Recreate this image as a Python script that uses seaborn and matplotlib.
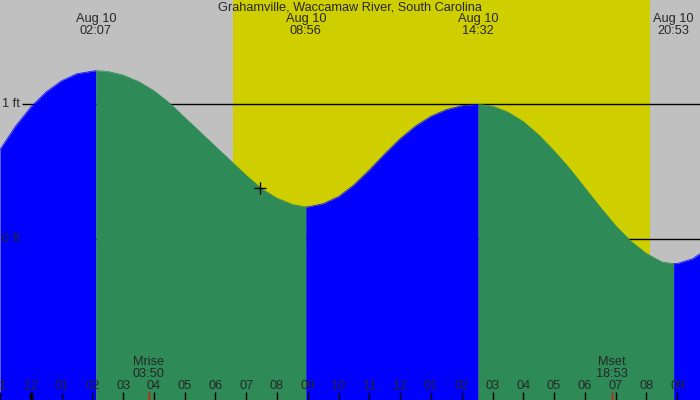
import numpy as np
import pandas as pd
import matplotlib
matplotlib.use("Agg")
from matplotlib import pyplot as plt
import seaborn as sns

# readings (hours from midnight Aug 10, height in ft)
hours = [-1.0, -0.5, 0.0, 0.5, 1.0, 1.5, 2.117,
         2.5, 3.0, 3.5, 4.0, 4.5, 5.0, 5.5, 6.0, 6.5, 7.0, 7.5, 8.0, 8.5, 8.933,
         9.0, 9.5, 10.0, 10.5, 11.0, 11.5, 12.0, 12.5, 13.0, 13.5, 14.0, 14.533,
         15.0, 15.5, 16.0, 16.5, 17.0, 17.5, 18.0, 18.5, 19.0, 19.5, 20.0, 20.5,
         20.883, 21.0, 21.5, 22.0]
height_ft = [0.665, 0.838, 0.980, 1.093, 1.175, 1.227, 1.250,
             1.244, 1.217, 1.169, 1.101, 1.011, 0.903, 0.796, 0.688, 0.581,
             0.474, 0.375, 0.305, 0.259, 0.240,
             0.2405, 0.264, 0.317, 0.404, 0.515, 0.634, 0.746, 0.840, 0.912,
             0.961, 0.990, 1.000,
             0.987, 0.943, 0.872, 0.774, 0.656, 0.526, 0.382, 0.238, 0.101,
             -0.015, -0.105, -0.167,
             -0.180, -0.179, -0.144, -0.065]

tide_hours = [2.117, 8.933, 14.533, 20.883]
tide_labels = ["02:07", "08:56", "14:32", "20:53"]
tide_date = "Aug 10"

sunrise, sunset = 6.57, 20.11
moon_hours = [3.833, 18.883]
moon_names = ["Mrise", "Mset"]
moon_labels = ["03:50", "18:53"]

now_hour, now_ft = 7.46, 0.38
ref_levels = [0, 1]
ref_labels = ["0 ft", "1 ft"]
tick_hours = list(range(-1, 22))

title = "Grahamville, Waccamaw River, South Carolina"

night_col = "#c0c0c0"
day_col = "#cfcf00"
flood_col = "#0000ff"
ebb_col = "#2e8b57"

x0, x1 = -1.0, 21.74
y0, y1 = -1.19, 1.773

df = pd.DataFrame({"hour": hours, "ft": height_ft})

# split into rising / falling pieces at each high / low
bounds = [x0 - 1] + tide_hours + [x1 + 1]
pieces = []
for i in range(len(bounds) - 1):
    seg = df[(df.hour >= bounds[i]) & (df.hour <= bounds[i + 1])].copy()
    seg["seg"] = "s%d" % i
    pieces.append(seg)
segs = pd.concat(pieces)
seg_colors = {"s%d" % i: (flood_col if i % 2 == 0 else ebb_col)
              for i in range(len(pieces))}

sns.set_style("white")
plt.rcParams["font.family"] = ["Liberation Sans", "DejaVu Sans"]

fig = plt.figure(figsize=(7, 4), dpi=100)
ax = fig.add_axes([0, 0, 1, 1])
ax.set_xlim(x0, x1)
ax.set_ylim(y0, y1)
ax.axis("off")

ax.axvspan(x0, sunrise, color=night_col, lw=0, zorder=0)
ax.axvspan(sunrise, sunset, color=day_col, lw=0, zorder=0)
ax.axvspan(sunset, x1, color=night_col, lw=0, zorder=0)

ax.hlines(ref_levels, -0.29, x1, color="black", lw=1, zorder=1)

for name, seg in segs.groupby("seg"):
    ax.fill_between(seg.hour, seg.ft, y0, color=seg_colors[name], lw=0, zorder=2)
sns.lineplot(data=segs, x="hour", y="ft", hue="seg", palette=seg_colors,
             estimator=None, sort=False, legend=False, lw=0.5, ax=ax, zorder=3)

ax.plot([now_hour], [now_ft], marker="+", ms=9, mew=1, color="black", zorder=4)

fs = 9.2
for lev, lab in zip(ref_levels, ref_labels):
    ax.text(-0.93, lev, lab, fontsize=fs, ha="left", va="center", zorder=5)

xt = ax.get_xaxis_transform()
ax.text(0.5, 0.981, title, transform=ax.transAxes, fontsize=fs,
        ha="center", va="center", zorder=5)
for h, lab in zip(tide_hours, tide_labels):
    ax.text(h, 0.953, tide_date, transform=xt, fontsize=fs, ha="center",
            va="center", zorder=5)
    ax.text(h, 0.923, lab, transform=xt, fontsize=fs, ha="center",
            va="center", zorder=5)

for h in tick_hours:
    lab = "%02d" % (h % 12 if h % 12 else 12)
    ax.text(h, 0.036, lab, transform=xt, fontsize=fs, ha="center",
            va="center", zorder=5)
    ax.vlines(h, 0, 0.021, transform=xt, color="black",
              lw=2.5 if h == 0 else 1, zorder=6)

for h, nm, lab in zip(moon_hours, moon_names, moon_labels):
    ax.text(h, 0.095, nm, transform=xt, fontsize=fs, ha="center",
            va="center", zorder=5)
    ax.text(h, 0.065, lab, transform=xt, fontsize=fs, ha="center",
            va="center", zorder=5)
    ax.vlines(h, 0, 0.021, transform=xt, color="red", lw=1, zorder=6)

fig.savefig("out.png", dpi=100)
